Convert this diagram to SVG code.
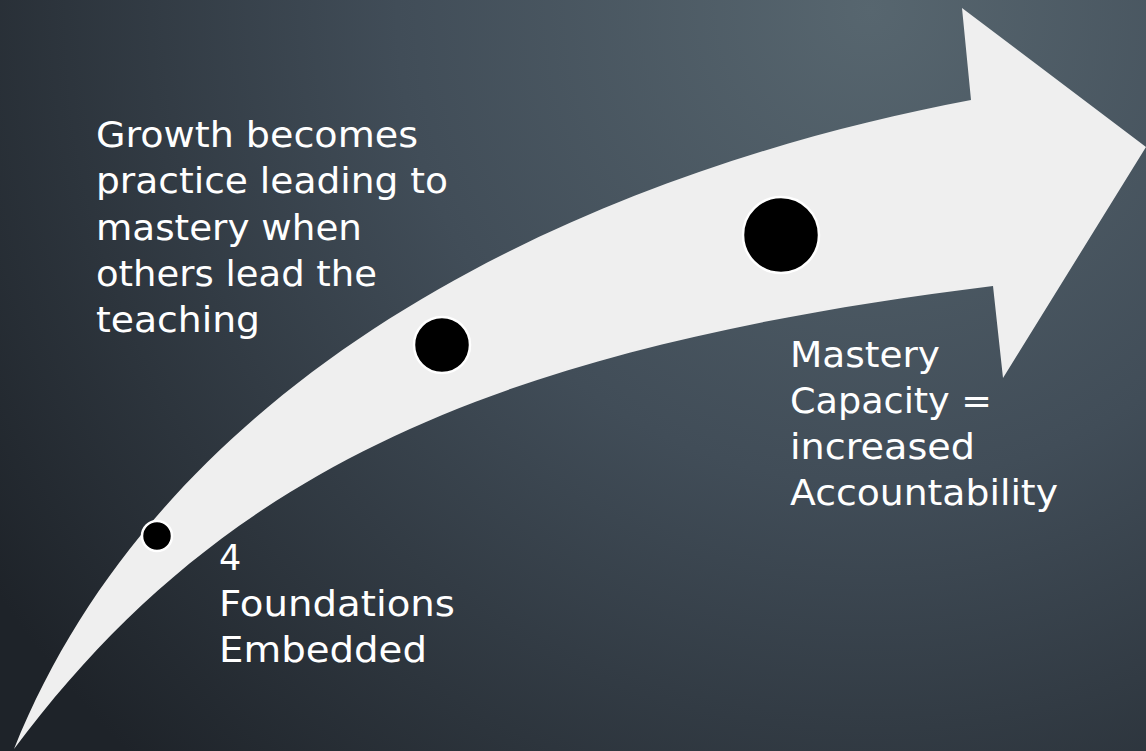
<svg xmlns="http://www.w3.org/2000/svg" width="1146" height="751" viewBox="0 0 1146 751">
  <defs>
    <radialGradient id="bg" gradientUnits="userSpaceOnUse" cx="870" cy="10" r="1050">
      <stop offset="0" stop-color="#57666f"/>
      <stop offset="0.45" stop-color="#414d58"/>
      <stop offset="1" stop-color="#1e2329"/>
    </radialGradient>
    <style>
      .lbl { font-family: "DejaVu Sans", "Liberation Sans", sans-serif; font-size: 35px; font-weight: normal; fill: #ffffff; }
      .dot { fill: #000000; stroke: #ffffff; stroke-width: 2.5; }
      .arrow { fill: #efefef; }
    </style>
  </defs>
  <rect x="0" y="0" width="1146" height="751" fill="url(#bg)"/>

  <g id="connectors">
    <path id="arrow" class="arrow" d="M 14,749 C 170,360 600,170 971,100 L 962,8 L 1146,147 L 1003,378 L 993,286 C 498,347.5 223,468 14,749 Z"/>
  </g>

  <g id="node-foundations">
    <circle class="dot" cx="157" cy="536" r="15"/>
    <text class="lbl" x="219" y="570">4</text>
    <text class="lbl" x="219" y="616" textLength="236" lengthAdjust="spacingAndGlyphs">Foundations</text>
    <text class="lbl" x="219" y="662" textLength="208" lengthAdjust="spacingAndGlyphs">Embedded</text>
  </g>

  <g id="node-growth">
    <circle class="dot" cx="442" cy="345" r="28"/>
    <text class="lbl" x="96" y="147" textLength="322" lengthAdjust="spacingAndGlyphs">Growth becomes</text>
    <text class="lbl" x="96" y="193" textLength="352" lengthAdjust="spacingAndGlyphs">practice leading to</text>
    <text class="lbl" x="96" y="240" textLength="266" lengthAdjust="spacingAndGlyphs">mastery when</text>
    <text class="lbl" x="96" y="286" textLength="281" lengthAdjust="spacingAndGlyphs">others lead the</text>
    <text class="lbl" x="96" y="332" textLength="164" lengthAdjust="spacingAndGlyphs">teaching</text>
  </g>

  <g id="node-mastery">
    <circle class="dot" cx="781" cy="235" r="38"/>
    <text class="lbl" x="790" y="367" textLength="150" lengthAdjust="spacingAndGlyphs">Mastery</text>
    <text class="lbl" x="790" y="413" textLength="202" lengthAdjust="spacingAndGlyphs">Capacity =</text>
    <text class="lbl" x="790" y="459" textLength="185" lengthAdjust="spacingAndGlyphs">increased</text>
    <text class="lbl" x="790" y="505" textLength="268" lengthAdjust="spacingAndGlyphs">Accountability</text>
  </g>
</svg>
